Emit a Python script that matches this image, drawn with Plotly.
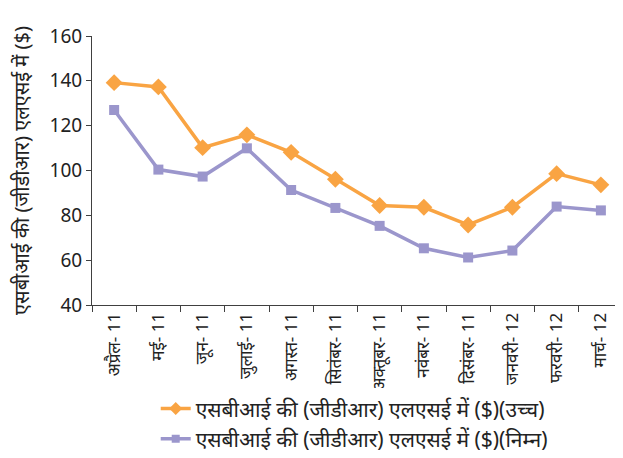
import plotly.graph_objects as go

months = ["अप्रैल- 11", "मई- 11", "जून- 11", "जुलाई- 11", "अगस्त- 11", "सितंबर- 11",
          "अक्तूबर- 11", "नवंबर- 11", "दिसंबर- 11", "जनवरी- 12", "फरवरी- 12", "मार्च- 12"]
high = [139.2, 137.3, 110.2, 115.9, 108.1, 96.1, 84.4, 83.6, 75.7, 83.6, 98.6, 93.6]
low = [127.0, 100.4, 97.3, 109.9, 91.3, 83.3, 75.3, 65.3, 61.2, 64.3, 83.9, 82.2]
name_high = "एसबीआई की (जीडीआर) एलएसई में ($)(उच्च)"
name_low = "एसबीआई की (जीडीआर) एलएसई में ($)(निम्न)"
y_title = "एसबीआई की (जीडीआर) एलएसई में ($)"
y_ticks = [40, 60, 80, 100, 120, 140, 160]

font_family = "Noto Sans, Open Sans, DejaVu Sans, sans-serif"
c_high = "#F9A443"
c_low = "#9B96CC"

fig = go.Figure()
fig.add_trace(go.Scatter(x=months, y=high, name=name_high, mode="lines+markers",
                         line=dict(color=c_high, width=3.5), showlegend=False,
                         marker=dict(symbol="diamond", size=13, color=c_high)))
fig.add_trace(go.Scatter(x=months, y=low, name=name_low, mode="lines+markers",
                         line=dict(color=c_low, width=3.5), showlegend=False,
                         marker=dict(symbol="square", size=10, color=c_low)))
# legend entries with the smaller legend-sized symbols
fig.add_trace(go.Scatter(x=[None], y=[None], name=name_high, mode="lines+markers",
                         line=dict(color=c_high, width=3.5),
                         marker=dict(symbol="diamond", size=10, color=c_high)))
fig.add_trace(go.Scatter(x=[None], y=[None], name=name_low, mode="lines+markers",
                         line=dict(color=c_low, width=3.5),
                         marker=dict(symbol="square", size=8, color=c_low)))

fig.update_layout(
    width=623, height=458,
    margin=dict(l=84, r=8, t=28, b=161, autoexpand=False),
    paper_bgcolor="white", plot_bgcolor="white",
    font=dict(family=font_family, color="#222222"),
    showlegend=True,
    legend=dict(orientation="v", x=0.12, y=-0.31, xanchor="left", yanchor="top",
                font=dict(size=21), itemwidth=30, tracegroupgap=0),
    xaxis=dict(type="category", range=[-0.5, 11.5], tickangle=-90,
               showline=True, linecolor="#404040", linewidth=1,
               ticks="outside", tickson="boundaries", ticklen=6, tickcolor="#404040",
               tickfont=dict(size=17), showgrid=False, zeroline=False, automargin=False),
    yaxis=dict(range=[40, 160], tickvals=y_ticks,
               showline=True, linecolor="#404040", linewidth=1,
               ticks="outside", ticklen=5, tickcolor="#404040",
               tickfont=dict(size=19), showgrid=False, zeroline=False, automargin=False,
               title=dict(text=y_title, font=dict(size=20), standoff=17)),
)

fig.write_html("out.html")
